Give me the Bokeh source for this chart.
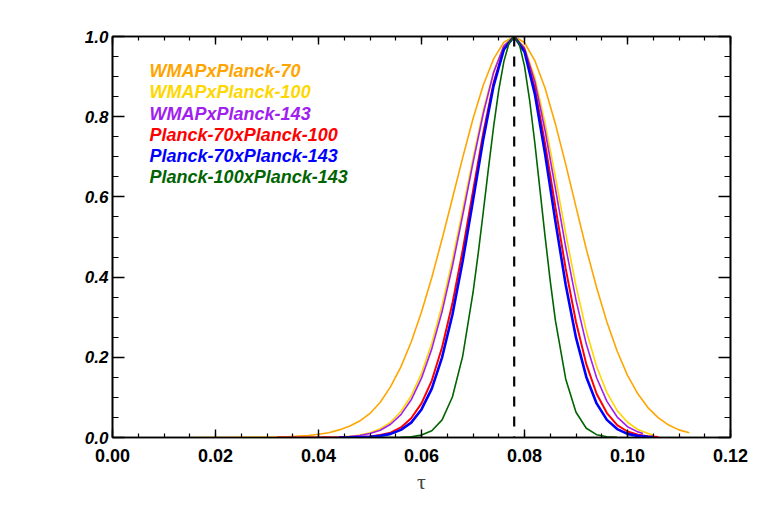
from bokeh.plotting import figure
from bokeh.models import LinearAxis, SingleIntervalTicker, Span, ColumnDataSource, NumeralTickFormatter
from bokeh.core.properties import value
from bokeh.embed import file_html
from bokeh.resources import INLINE

# ---------------- data ----------------
tau_wmap70 = [0.016, 0.030, 0.034, 0.038, 0.040, 0.042, 0.044, 0.046, 0.048, 0.050, 0.052, 0.054,
              0.056, 0.058, 0.060, 0.062, 0.064, 0.066, 0.068, 0.070, 0.072, 0.074, 0.076, 0.078,
              0.080, 0.082, 0.084, 0.086, 0.088, 0.090, 0.092, 0.094, 0.096, 0.098, 0.100, 0.102,
              0.104, 0.106, 0.108, 0.110, 0.112]
like_wmap70 = [0.0, 0.0005, 0.002, 0.005, 0.008, 0.012, 0.019, 0.028, 0.041, 0.060, 0.088, 0.127,
               0.176, 0.238, 0.313, 0.399, 0.495, 0.596, 0.698, 0.795, 0.879, 0.944, 0.986, 1.0,
               0.985, 0.940, 0.871, 0.782, 0.681, 0.575, 0.470, 0.374, 0.288, 0.215, 0.155, 0.109,
               0.074, 0.049, 0.031, 0.019, 0.012]

tau_wmap100 = [0.024, 0.040, 0.044, 0.046, 0.048, 0.050, 0.052, 0.054, 0.056, 0.058, 0.060, 0.062,
               0.064, 0.066, 0.068, 0.070, 0.072, 0.074, 0.076, 0.078, 0.080, 0.082, 0.084, 0.086,
               0.088, 0.090, 0.092, 0.094, 0.096, 0.098, 0.100, 0.102, 0.104, 0.105]
like_wmap100 = [0.0, 0.0003, 0.0014, 0.003, 0.006, 0.012, 0.022, 0.038, 0.065, 0.104, 0.160, 0.235,
                0.330, 0.443, 0.568, 0.696, 0.816, 0.913, 0.978, 1.0, 0.973, 0.898, 0.784, 0.649,
                0.509, 0.378, 0.266, 0.177, 0.112, 0.067, 0.038, 0.020, 0.010, 0.006]

tau_wmap143 = [0.032, 0.040, 0.044, 0.046, 0.048, 0.050, 0.052, 0.054, 0.056, 0.058, 0.060, 0.062,
               0.064, 0.066, 0.068, 0.070, 0.072, 0.074, 0.076, 0.078, 0.080, 0.082, 0.084, 0.086,
               0.088, 0.090, 0.092, 0.094, 0.096, 0.098, 0.100, 0.102, 0.103]
like_wmap143 = [0.0, 0.0002, 0.0011, 0.0024, 0.005, 0.010, 0.018, 0.033, 0.057, 0.094, 0.148, 0.221,
                0.314, 0.427, 0.554, 0.685, 0.808, 0.910, 0.977, 1.0, 0.971, 0.888, 0.765, 0.621,
                0.475, 0.343, 0.233, 0.149, 0.090, 0.051, 0.027, 0.014, 0.010]

tau_p70x100 = [0.032, 0.044, 0.046, 0.048, 0.050, 0.052, 0.054, 0.056, 0.058, 0.060, 0.062, 0.064,
               0.066, 0.068, 0.070, 0.072, 0.074, 0.076, 0.078, 0.080, 0.082, 0.084, 0.086, 0.088,
               0.090, 0.092, 0.094, 0.096, 0.098, 0.100, 0.102, 0.104, 0.106]
like_p70x100 = [0.0, 0.0001, 0.0004, 0.001, 0.0025, 0.006, 0.012, 0.025, 0.048, 0.085, 0.142, 0.225,
                0.334, 0.467, 0.614, 0.760, 0.885, 0.970, 1.0, 0.966, 0.871, 0.732, 0.575, 0.421,
                0.288, 0.183, 0.109, 0.061, 0.031, 0.015, 0.007, 0.003, 0.001]

tau_p70x143 = [0.044, 0.046, 0.048, 0.050, 0.052, 0.054, 0.056, 0.058, 0.060, 0.062, 0.064, 0.066,
               0.068, 0.070, 0.072, 0.074, 0.076, 0.078, 0.080, 0.082, 0.084, 0.086, 0.088, 0.090,
               0.092, 0.094, 0.096, 0.098, 0.100, 0.102, 0.104, 0.105]
like_p70x143 = [0.0, 0.0002, 0.0006, 0.0016, 0.004, 0.009, 0.019, 0.037, 0.070, 0.122, 0.200, 0.306,
                0.440, 0.591, 0.744, 0.877, 0.968, 1.0, 0.962, 0.857, 0.707, 0.539, 0.381, 0.249,
                0.151, 0.085, 0.044, 0.021, 0.009, 0.004, 0.0015, 0.001]

tau_p100x143 = [0.050, 0.054, 0.056, 0.058, 0.060, 0.062, 0.064, 0.066, 0.068, 0.070, 0.071, 0.072,
                0.073, 0.074, 0.075, 0.076, 0.077, 0.078, 0.079, 0.080, 0.081, 0.082, 0.083, 0.084,
                0.085, 0.086, 0.088, 0.090, 0.092, 0.094, 0.096, 0.098]
like_p100x143 = [0.0, 0.0001, 0.0004, 0.0017, 0.006, 0.017, 0.044, 0.101, 0.203, 0.361, 0.458, 0.563,
                 0.671, 0.775, 0.866, 0.938, 0.984, 1.0, 0.981, 0.926, 0.841, 0.735, 0.618, 0.501,
                 0.390, 0.292, 0.146, 0.063, 0.023, 0.007, 0.002, 0.0005]

series_names = ["WMAPxPlanck-70", "WMAPxPlanck-100", "WMAPxPlanck-143",
                "Planck-70xPlanck-100", "Planck-70xPlanck-143", "Planck-100xPlanck-143"]
series_colors = ["#FFA500", "#FFD700", "#A020F0", "#FF0000", "#0000FF", "#006400"]
series_tau = [tau_wmap70, tau_wmap100, tau_wmap143, tau_p70x100, tau_p70x143, tau_p100x143]
series_like = [like_wmap70, like_wmap100, like_wmap143, like_p70x100, like_p70x143, like_p100x143]
series_widths = [1.6, 1.6, 1.6, 2.0, 2.6, 1.6]

tau_best = 0.078

# ---------------- figure ----------------
p = figure(frame_width=618, frame_height=401, x_range=(0.0, 0.12), y_range=(0.0, 1.0),
           output_backend="svg", toolbar_location=None,
           min_border_left=112, min_border_right=18, min_border_top=36, min_border_bottom=50,
           x_axis_location=None, y_axis_location=None)
p.grid.visible = False
p.outline_line_color = "black"
p.outline_line_width = 1.6
p.background_fill_color = "white"
p.border_fill_color = "white"


def make_x_axis(show_labels):
    ax = LinearAxis(ticker=SingleIntervalTicker(interval=0.02, num_minor_ticks=4))
    ax.major_tick_in = 8
    ax.major_tick_out = 0
    ax.minor_tick_in = 4
    ax.minor_tick_out = 0
    ax.axis_line_width = 1.6
    ax.major_tick_line_width = 1.4
    ax.minor_tick_line_width = 1.2
    if show_labels:
        ax.formatter = NumeralTickFormatter(format="0.00")
        ax.major_label_text_font = "Liberation Sans"
        ax.major_label_text_font_style = "bold"
        ax.major_label_text_font_size = "18px"
        ax.major_label_text_color = "black"
        ax.major_label_standoff = 11
        ax.axis_label = "τ"
        ax.axis_label_text_font = "Liberation Serif"
        ax.axis_label_text_font_style = "normal"
        ax.axis_label_text_font_size = "22px"
        ax.axis_label_standoff = 4
    else:
        ax.major_label_text_color = None
        ax.major_label_standoff = 0
    return ax


def make_y_axis(show_labels):
    ax = LinearAxis(ticker=SingleIntervalTicker(interval=0.2, num_minor_ticks=4))
    ax.major_tick_in = 12
    ax.major_tick_out = 0
    ax.minor_tick_in = 6
    ax.minor_tick_out = 0
    ax.axis_line_width = 1.6
    ax.major_tick_line_width = 1.4
    ax.minor_tick_line_width = 1.2
    if show_labels:
        ax.formatter = NumeralTickFormatter(format="0.0")
        ax.major_label_text_font = "Liberation Sans"
        ax.major_label_text_font_style = "bold italic"
        ax.major_label_text_font_size = "17px"
        ax.major_label_text_color = "black"
        ax.major_label_standoff = 4
    else:
        ax.major_label_text_color = None
        ax.major_label_standoff = 0
    return ax


p.add_layout(make_x_axis(True), "below")
p.add_layout(make_x_axis(False), "above")
p.add_layout(make_y_axis(True), "left")
p.add_layout(make_y_axis(False), "right")

for t, l, c, w in zip(series_tau, series_like, series_colors, series_widths):
    p.line(t, l, line_color=c, line_width=w)

p.add_layout(Span(location=tau_best, dimension="height", line_color="black",
                  line_width=2.2, line_dash="10 10"))

# legend as coloured text
leg_x = 0.0072
leg_y0 = 0.913
leg_dy = 0.0526
src = ColumnDataSource(dict(
    x=[leg_x] * len(series_names),
    y=[leg_y0 - i * leg_dy for i in range(len(series_names))],
    text=series_names,
    color=series_colors,
))
p.text(x="x", y="y", text="text", text_color="color", source=src,
       text_font=value("Liberation Sans"), text_font_style="bold italic",
       text_font_size="18px", text_baseline="middle", text_align="left")

open("out.html", "w").write(file_html(p, INLINE))
